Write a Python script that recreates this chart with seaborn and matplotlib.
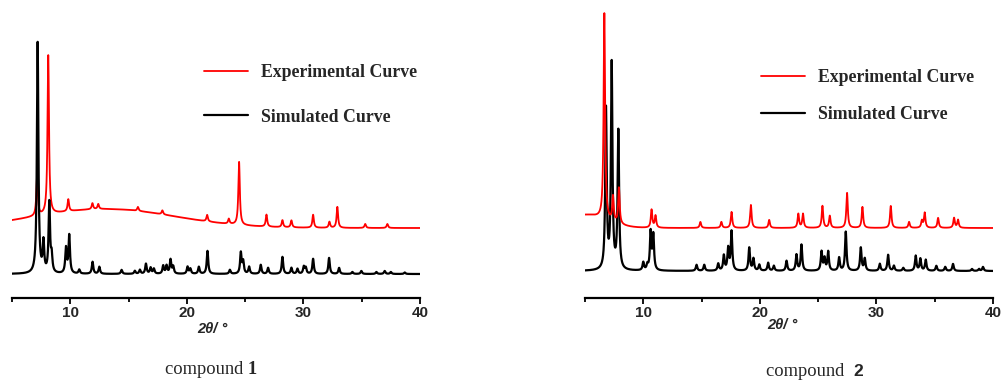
import numpy as np
import pandas as pd
import seaborn as sns
import matplotlib.pyplot as plt
from matplotlib.ticker import MultipleLocator

# peak lists (2theta in degrees, intensity in a.u.)
sim1_pos = [7.2, 7.7, 8.2, 8.4, 9.63, 9.91, 10.77, 11.91, 12.49, 14.4, 15.54, 15.97,
            16.49, 16.89, 17.17, 17.97, 18.26, 18.6, 18.83, 20.06, 20.3, 21.03, 21.77,
            23.69, 24.63, 24.83, 25.34, 26.34, 26.97, 28.2, 28.97, 29.49, 30.03, 30.2,
            30.83, 32.2, 33.06, 34.2, 34.97, 36.26, 36.97, 37.5, 38.69]
sim1_int = [231, 30, 70, 16, 25, 38, 4, 12, 7, 4, 3, 4,
            10, 6, 5, 8, 8, 14, 7, 7, 5, 7, 23,
            4, 21, 12, 7, 9, 6, 17, 6, 5, 7, 6,
            15, 16, 6, 2, 3, 2, 3, 2, 1.5]

exp1_pos = [7.15, 8.11, 9.83, 11.9, 12.4, 15.8, 17.9, 21.74, 23.6, 24.48, 26.83,
            28.2, 28.97, 30.83, 32.23, 32.91, 35.3, 37.2]
exp1_int = [40, 159, 12, 6, 5, 4, 4, 6.5, 5, 63, 12, 7, 7, 13, 6, 21, 4, 4]
# broad amorphous hump of compound 1: centre, height, sigma
exp1_hump_pos = [13.0]
exp1_hump_int = [19]
exp1_hump_sig = [6.0]

sim2_pos = [6.8, 7.29, 7.86, 10.0, 10.35, 10.63, 10.86, 14.57, 15.23, 16.43, 16.91,
            17.28, 17.57, 19.09, 19.45, 19.95, 20.71, 21.2, 22.29, 23.14, 23.57, 25.29,
            25.55, 25.86, 26.8, 27.37, 28.66, 29.0, 30.29, 31.0, 31.5, 32.3, 33.37,
            33.77, 34.23, 35.14, 35.9, 36.57, 38.2, 38.8, 39.14]
sim2_int = [160, 205, 138, 8, 5, 38, 35, 6, 6, 7, 15,
            22, 39, 23, 12, 6, 8, 5, 10, 16, 26, 19,
            12, 19, 13, 39, 23, 12, 7, 16, 5, 3, 15,
            12, 11, 5, 4, 7, 2, 2, 4]

exp2_pos = [6.66, 7.4, 7.91, 10.71, 11.05, 14.9, 16.7, 17.57, 19.23, 20.8, 23.3, 23.7,
            25.37, 26.0, 27.48, 28.8, 31.23, 32.8, 33.9, 34.14, 35.29, 36.66, 37.0]
exp2_int = [206, 25, 36, 18, 12, 6, 6, 16, 23, 8, 14, 14,
            22, 12, 35, 21, 22, 6, 7, 15, 10, 10, 8]
# low-angle background rise of compound 2
exp2_hump_pos = [5.0]
exp2_hump_int = [13]
exp2_hump_sig = [1.8]

x_ticks = [10, 20, 30, 40]
labels = ['Experimental Curve', 'Simulated Curve']
compounds = ['1', '2']


def profile(grid, pos, height, fwhm=0.15, hump=None):
    g = (fwhm / 2) ** 2
    y = np.zeros_like(grid)
    for p, h in zip(pos, height):
        y += h * g / (g + (grid - p) ** 2)
    if hump is not None:
        for p, h, s in zip(*hump):
            y += h * np.exp(-(grid - p) ** 2 / (2 * s ** 2))
    return y


grid = np.arange(5.0, 40.001, 0.01)
panels = [
    dict(sim=(sim1_pos, sim1_int), exp=(exp1_pos, exp1_int),
         hump=(exp1_hump_pos, exp1_hump_int, exp1_hump_sig), offset=46,
         ylim=(-24, 274), x0=12, leg=(204, 64, 1.55), red_top=False),
    dict(sim=(sim2_pos, sim2_int), exp=(exp2_pos, exp2_int),
         hump=(exp2_hump_pos, exp2_hump_int, exp2_hump_sig), offset=43,
         ylim=(-27, 271), x0=585, leg=(761, 69, 1.12), red_top=True),
]

W, H = 1005, 381
fig = plt.figure(figsize=(W / 100, H / 100), dpi=100)
sns.set_style('white')
serif = 'Liberation Serif'
sans = 'Liberation Sans'

for i, p in enumerate(panels):
    x0 = p['x0']
    ax = fig.add_axes([x0 / W, (H - 298) / H, 408 / W, 298 / H])
    sim = profile(grid, *p['sim'])
    exp = profile(grid, *p['exp'], hump=p['hump']) + p['offset']
    df = pd.DataFrame({'two_theta': np.concatenate([grid, grid]),
                       'intensity': np.concatenate([exp, sim]),
                       'curve': [labels[0]] * len(grid) + [labels[1]] * len(grid)})
    z_red, z_black = (3, 2) if p['red_top'] else (2, 3)
    sns.lineplot(data=df[df.curve == labels[0]], x='two_theta', y='intensity',
                 color='#ff0000', lw=3.5, estimator=None, sort=False, ax=ax,
                 zorder=z_red, label=labels[0])
    sns.lineplot(data=df[df.curve == labels[1]], x='two_theta', y='intensity',
                 color='black', lw=1.6, estimator=None, sort=False, ax=ax,
                 zorder=z_black, label=labels[1])

    ax.set_xlim(5, 40)
    ax.set_ylim(*p['ylim'])
    ax.set_xticks(x_ticks)
    ax.xaxis.set_minor_locator(MultipleLocator(5))
    ax.set_yticks([])
    ax.set_xlabel('')
    ax.set_ylabel('')
    for s in ['left', 'top', 'right']:
        ax.spines[s].set_visible(False)
    ax.spines['bottom'].set_linewidth(1.6)
    ax.spines['bottom'].set_color('black')
    ax.tick_params(axis='x', which='major', direction='out', length=4, width=1.3,
                   color='black', pad=2, bottom=True)
    ax.tick_params(axis='x', which='minor', direction='out', length=3, width=1.3,
                   color='black', bottom=True)
    for t in ax.get_xticklabels():
        t.set_fontfamily(sans)
        t.set_fontweight('bold')
        t.set_fontsize(11)

    handles, labs = ax.get_legend_handles_labels()
    handles[0].set_linewidth(1.3)
    handles[1].set_linewidth(1.6)
    lx, ly, spacing = p['leg']
    ax.legend(handles, labs, loc='upper left', frameon=False,
              bbox_to_anchor=((lx - x0) / 408, 1 - ly / 298),
              prop={'family': serif, 'weight': 'bold', 'size': 12.8},
              handlelength=2.5, handletextpad=0.7, labelspacing=spacing,
              borderaxespad=0, borderpad=0)

# axis titles and compound captions below each pattern
for xc, yc in [(212, 329), (782, 325)]:
    fig.text(xc / W, 1 - yc / H, '2θ/ °', ha='center', va='center',
             family=sans, weight='bold', style='italic', fontsize=10.5)

fig.text(248 / W, 1 - 370 / H, 'compound ', ha='right', va='center',
         family=serif, fontsize=13.3)
fig.text(248 / W, 1 - 370 / H, compounds[0], ha='left', va='center',
         family=serif, weight='bold', fontsize=13.3)
fig.text(853 / W, 1 - 372 / H, 'compound  ', ha='right', va='center',
         family=serif, fontsize=13.3)
fig.text(853 / W, 1 - 372 / H, compounds[1], ha='left', va='center',
         family=sans, weight='bold', fontsize=12.5)

fig.savefig('out.png', dpi=100)
